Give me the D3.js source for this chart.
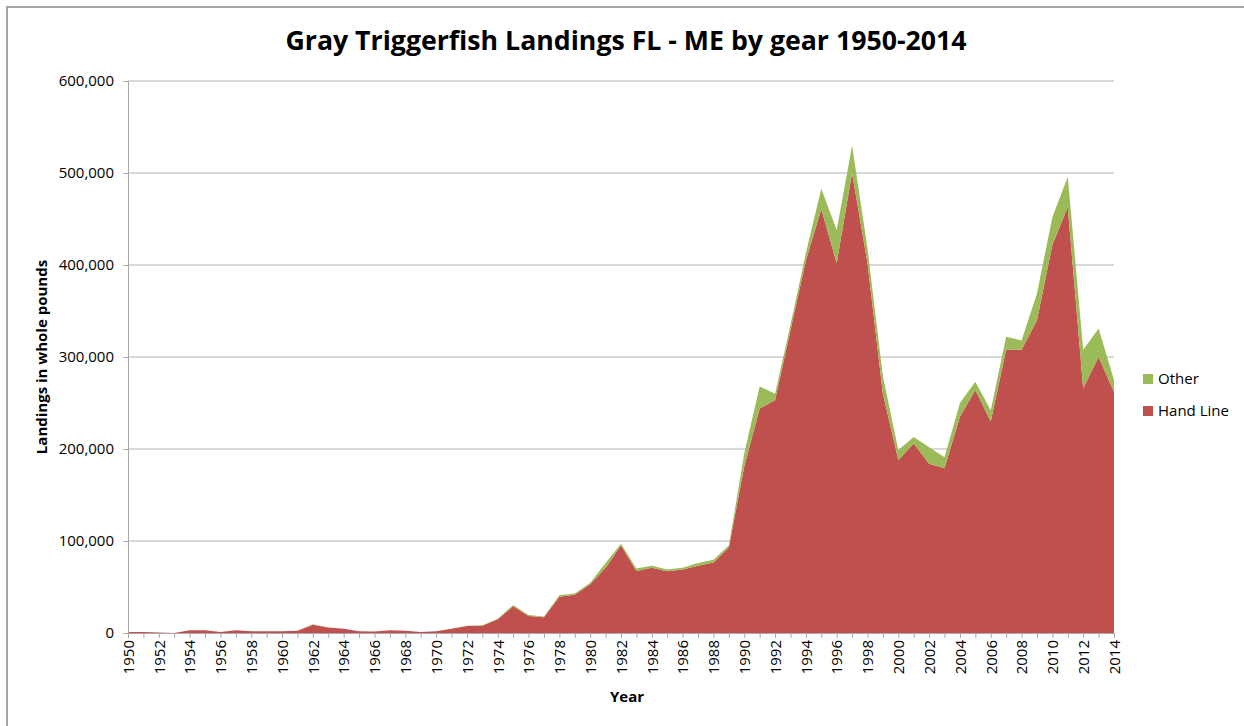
<!DOCTYPE html>
<html>
<head>
<meta charset="utf-8">
<script src="https://cdn.jsdelivr.net/npm/d3@7"></script>
<style>
  body { margin: 0; background: #fff; }
  svg text { font-family: "Open Sans", sans-serif; fill: #000; }
</style>
</head>
<body>
<script>
var width = 1244;
var height = 726;

// years 1950-2014
var years = d3.range(1950, 2015);

var handLine = [
  1000, 1000, 500, 0, 3000, 3000, 1000, 3000, 2000, 2000,
  2000, 2500, 9000, 6000, 4500, 2000, 1500, 3000, 2500, 1000,
  2000, 4500, 7500, 8000, 15000, 29000, 18500, 17000, 39500, 41500,
  53000, 71000, 95000, 67500, 71000, 67000, 69000, 73000, 76500, 93000,
  181000, 244000, 253000, 329000, 405000, 461000, 402000, 500000, 402000, 260000,
  188000, 206000, 184000, 179000, 235000, 264000, 230000, 308000, 308000, 340000,
  422000, 463000, 266000, 300000, 262000
];

var other = [
  0, 0, 0, 0, 0, 0, 0, 0, 0, 0,
  0, 0, 500, 0, 0, 0, 0, 0, 0, 0,
  0, 0, 500, 500, 500, 1500, 1000, 1000, 1500, 1500,
  1500, 5000, 2000, 2500, 2000, 2000, 2000, 3000, 3000, 2000,
  14000, 24000, 7000, 6000, 8000, 22000, 36000, 30000, 16000, 19000,
  11000, 7000, 18000, 12000, 15000, 9000, 12000, 14000, 10000, 29000,
  30000, 33000, 42000, 31000, 13000
];

var yTicks = [0, 100000, 200000, 300000, 400000, 500000, 600000];

var rows = years.map(function(y, i) {
  return { year: y, hand: handLine[i], other: other[i] };
});

var svg = d3.select("body").append("svg")
    .attr("width", width)
    .attr("height", height);

// frame
svg.append("path")
    .attr("d", "M7,726 L7,7 L1244,7")
    .attr("fill", "none")
    .attr("stroke", "#a6a6a6")
    .attr("stroke-width", 2);

var x = d3.scaleLinear()
    .domain([1950, 2014])
    .range([128, 1114]);

var y = d3.scaleLinear()
    .domain([0, 600000])
    .range([633, 81]);

// gridlines
svg.append("g")
  .selectAll("line")
  .data(yTicks.slice(1))
  .enter().append("line")
    .attr("x1", 128).attr("x2", 1114)
    .attr("y1", d => y(d)).attr("y2", d => y(d))
    .attr("stroke", "#b3b3b3")
    .attr("stroke-width", 1);

var stack = d3.stack().keys(["hand", "other"]);
var series = stack(rows);

var area = d3.area()
    .x(d => x(d.data.year))
    .y0(d => y(d[0]))
    .y1(d => y(d[1]));

var colors = { hand: "#c0504d", other: "#9bbb59" };

svg.append("g")
  .selectAll("path")
  .data(series)
  .enter().append("path")
    .attr("d", area)
    .attr("fill", d => colors[d.key]);

// y axis
var yAxis = d3.axisLeft(y)
    .tickValues(yTicks)
    .tickSize(5)
    .tickPadding(9)
    .tickFormat(d3.format(","));

var gy = svg.append("g")
    .attr("transform", "translate(128,0)")
    .call(yAxis);
gy.select(".domain").attr("stroke", "#a6a6a6");
gy.selectAll(".tick line").attr("stroke", "#a6a6a6");
gy.selectAll("text").style("font-size", "15px").attr("fill", "#000");

// x axis
var xAxis = d3.axisBottom(x)
    .tickValues(years)
    .tickSize(5)
    .tickFormat(d => d % 2 === 0 ? d : "");

var gx = svg.append("g")
    .attr("transform", "translate(0,633)")
    .call(xAxis);
gx.select(".domain").attr("stroke", "#a6a6a6");
gx.selectAll(".tick line").attr("stroke", "#a6a6a6");
gx.selectAll("text")
    .style("font-size", "15px")
    .attr("fill", "#000")
    .attr("transform", "rotate(-90)")
    .attr("text-anchor", "end")
    .attr("x", -7)
    .attr("y", 0)
    .attr("dy", "0.35em");

// titles
svg.append("text")
    .attr("x", 626).attr("y", 50)
    .attr("text-anchor", "middle")
    .style("font-size", "26.7px")
    .style("font-weight", "bold")
    .text("Gray Triggerfish Landings FL - ME by gear 1950-2014");

svg.append("text")
    .attr("x", 627).attr("y", 702)
    .attr("text-anchor", "middle")
    .style("font-size", "15px")
    .style("font-weight", "bold")
    .text("Year");

svg.append("text")
    .attr("transform", "translate(47,357) rotate(-90)")
    .attr("text-anchor", "middle")
    .style("font-size", "15px")
    .style("font-weight", "bold")
    .text("Landings in whole pounds");

// legend
var legend = [
  { key: "other", label: "Other", y: 379 },
  { key: "hand", label: "Hand Line", y: 411 }
];

var lg = svg.append("g")
  .selectAll("g")
  .data(legend)
  .enter().append("g")
    .attr("transform", d => "translate(1143," + d.y + ")");
lg.append("rect")
    .attr("x", 0).attr("y", -5)
    .attr("width", 10).attr("height", 10)
    .attr("fill", d => colors[d.key]);
lg.append("text")
    .attr("x", 15).attr("y", 0)
    .attr("dy", "0.35em")
    .style("font-size", "15px")
    .text(d => d.label);
</script>
</body>
</html>
